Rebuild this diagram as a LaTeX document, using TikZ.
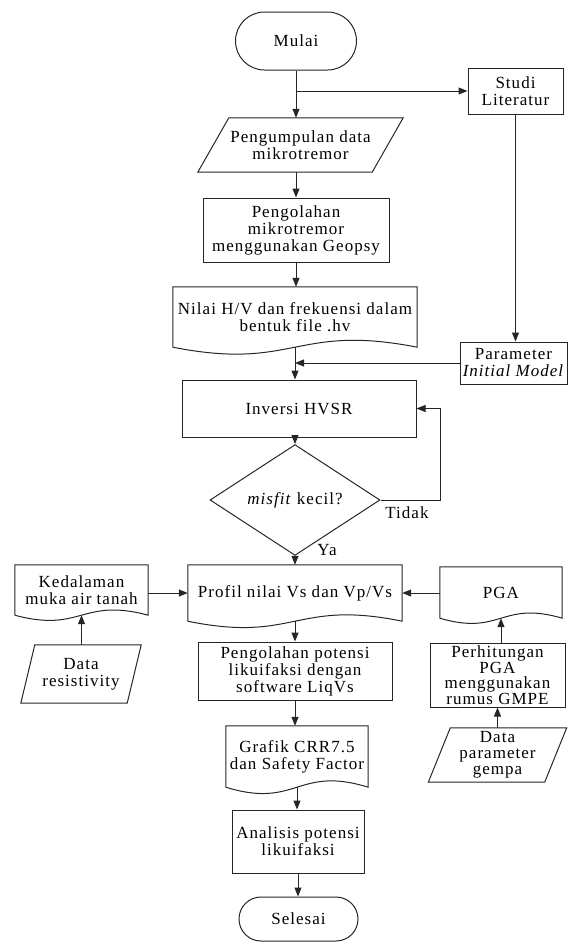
\documentclass[tikz,border=0pt]{standalone}
\usepackage{fontspec}
\setmainfont{Liberation Serif}[LetterSpace=6]
\usetikzlibrary{arrows.meta,shapes.geometric,calc}

\tikzset{
  txt/.style={align=center, inner sep=1pt, font=\fontsize{17}{17}\selectfont},
  proc/.style={txt, draw=black!85, line width=1pt, rectangle},
  term/.style={proc},
  lbl/.style={inner sep=0pt, font=\fontsize{17}{17}\selectfont},
  arr/.style={draw=black!85, line width=1pt, -{Triangle[length=9pt,width=7pt]}},
  outline/.style={draw=black!85, line width=1pt},
}

\newcommand{\docwave}[2]{%
  \draw[outline] (#1.south west) -- (#1.north west) -- (#1.north east) -- (#1.south east)
    .. controls ($(#1.south)+(0,-#2)$) and ($(#1.south)+(0,#2)$) .. (#1.south west);
}
\newcommand{\paragram}[2]{%
  \draw[outline] ([xshift=#2pt]#1.north west) -- ([xshift=#2pt]#1.north east)
    -- ([xshift=-#2pt]#1.south east) -- ([xshift=-#2pt]#1.south west) -- cycle;
}

\begin{document}
\begin{tikzpicture}[x=1pt,y=-1pt]
\useasboundingbox (0,0) rectangle (568,946);

% main column
\node[term, minimum width=121pt, minimum height=58pt, rounded corners=29pt] (mulai) at (296,41) {Mulai};
\node[proc, minimum width=95pt, minimum height=46pt] (studi) at (515.5,91) {Studi\\Literatur};
\node[txt, minimum width=174pt, minimum height=54pt] (kump) at (300.5,145) {Pengumpulan data\\mikrotremor};
\paragram{kump}{15.5}
\node[proc, minimum width=186pt, minimum height=64pt] (pmikro) at (296,230) {Pengolahan\\mikrotremor\\menggunakan Geopsy};
\node[txt, minimum width=244pt, minimum height=60pt] (nilai) at (295,317) {Nilai H/V dan frekuensi dalam\\bentuk file .hv};
\docwave{nilai}{24}
\node[proc, minimum width=107pt, minimum height=42pt] (param) at (513.5,363) {Parameter\\\textit{Initial Model}};
\node[proc, minimum width=234pt, minimum height=57pt] (inv) at (299,408.5) {Inversi HVSR};
\node[proc, diamond, minimum width=170pt, minimum height=75pt, inner sep=0pt] (dec) at (295,500) {\textit{misfit} kecil?};
\node[lbl] (tidak) at (407,513) {Tidak};
\node[lbl] (ya) at (327,550) {Ya};

\node[txt, minimum width=214pt, minimum height=56pt] (profil) at (295,593) {Profil nilai Vs dan Vp/Vs};
\docwave{profil}{22}
\node[txt, minimum width=133pt, minimum height=50pt] (kedal) at (81.5,590) {Kedalaman\\muka air tanah};
\docwave{kedal}{18}
\node[txt, minimum width=122pt, minimum height=51pt] (pga) at (501,592.5) {PGA};
\docwave{pga}{18}
\node[proc, minimum width=194pt, minimum height=58pt] (ppot) at (295,671) {Pengolahan potensi\\likuifaksi dengan\\software LiqVs};
\node[txt, minimum width=106pt, minimum height=58pt] (res) at (81,674) {Data\\resistivity};
\paragram{res}{7}
\node[proc, minimum width=135pt, minimum height=64pt, font=\fontsize{17}{15.5}\selectfont] (perh) at (497.5,675) {Perhitungan\\PGA\\menggunakan\\rumus GMPE};
\node[txt, minimum width=116pt, minimum height=54pt, font=\fontsize{17}{16}\selectfont] (gempa) at (497.5,755) {Data\\parameter\\gempa};
\paragram{gempa}{11}
\node[txt, minimum width=142pt, minimum height=61pt] (grafik) at (297,756.5) {Grafik CRR7.5\\dan Safety Factor};
\docwave{grafik}{22}
\node[proc, minimum width=132pt, minimum height=63pt] (anal) at (298,841.5) {Analisis potensi\\likuifaksi};
\node[term, minimum width=119pt, minimum height=44pt, rounded corners=22pt] (sel) at (298.5,919) {Selesai};

% connectors
\draw[arr] (mulai.south) -- (mulai.south |- kump.north);
\draw[arr] (mulai.south |- studi.west) -- (studi.west);
\draw[arr] (pmikro.north |- kump.south) -- (pmikro.north);
\draw[arr] (pmikro.south) -- (pmikro.south |- nilai.north);
\draw[arr] (nilai.south) -- (nilai.south |- inv.north);
\draw[arr] (studi.south) -- (studi.south |- param.north);
\draw[arr] (param.west) -- (param.west -| nilai.south);
\draw[arr] (dec.north |- inv.south) -- (dec.north);
\draw[arr] (dec.east) -- ++(60,0) |- (inv.east);
\draw[arr] (dec.south) -- (dec.south |- profil.north);
\draw[arr] (profil.west -| kedal.east) -- (profil.west);
\draw[arr] (profil.east -| pga.west) -- (profil.east);
\draw[arr] (res.north -| kedal.south) -- (kedal.south);
\draw[arr] (profil.south) -- (profil.south |- ppot.north);
\draw[arr] (perh.north -| pga.south) -- (pga.south);
\draw[arr] (gempa.north) -- (gempa.north |- perh.south);
\draw[arr] (ppot.south) -- (ppot.south |- grafik.north);
\draw[arr] (grafik.south) -- (grafik.south |- anal.north);
\draw[arr] (anal.south) -- (anal.south |- sel.north);
\end{tikzpicture}
\end{document}
